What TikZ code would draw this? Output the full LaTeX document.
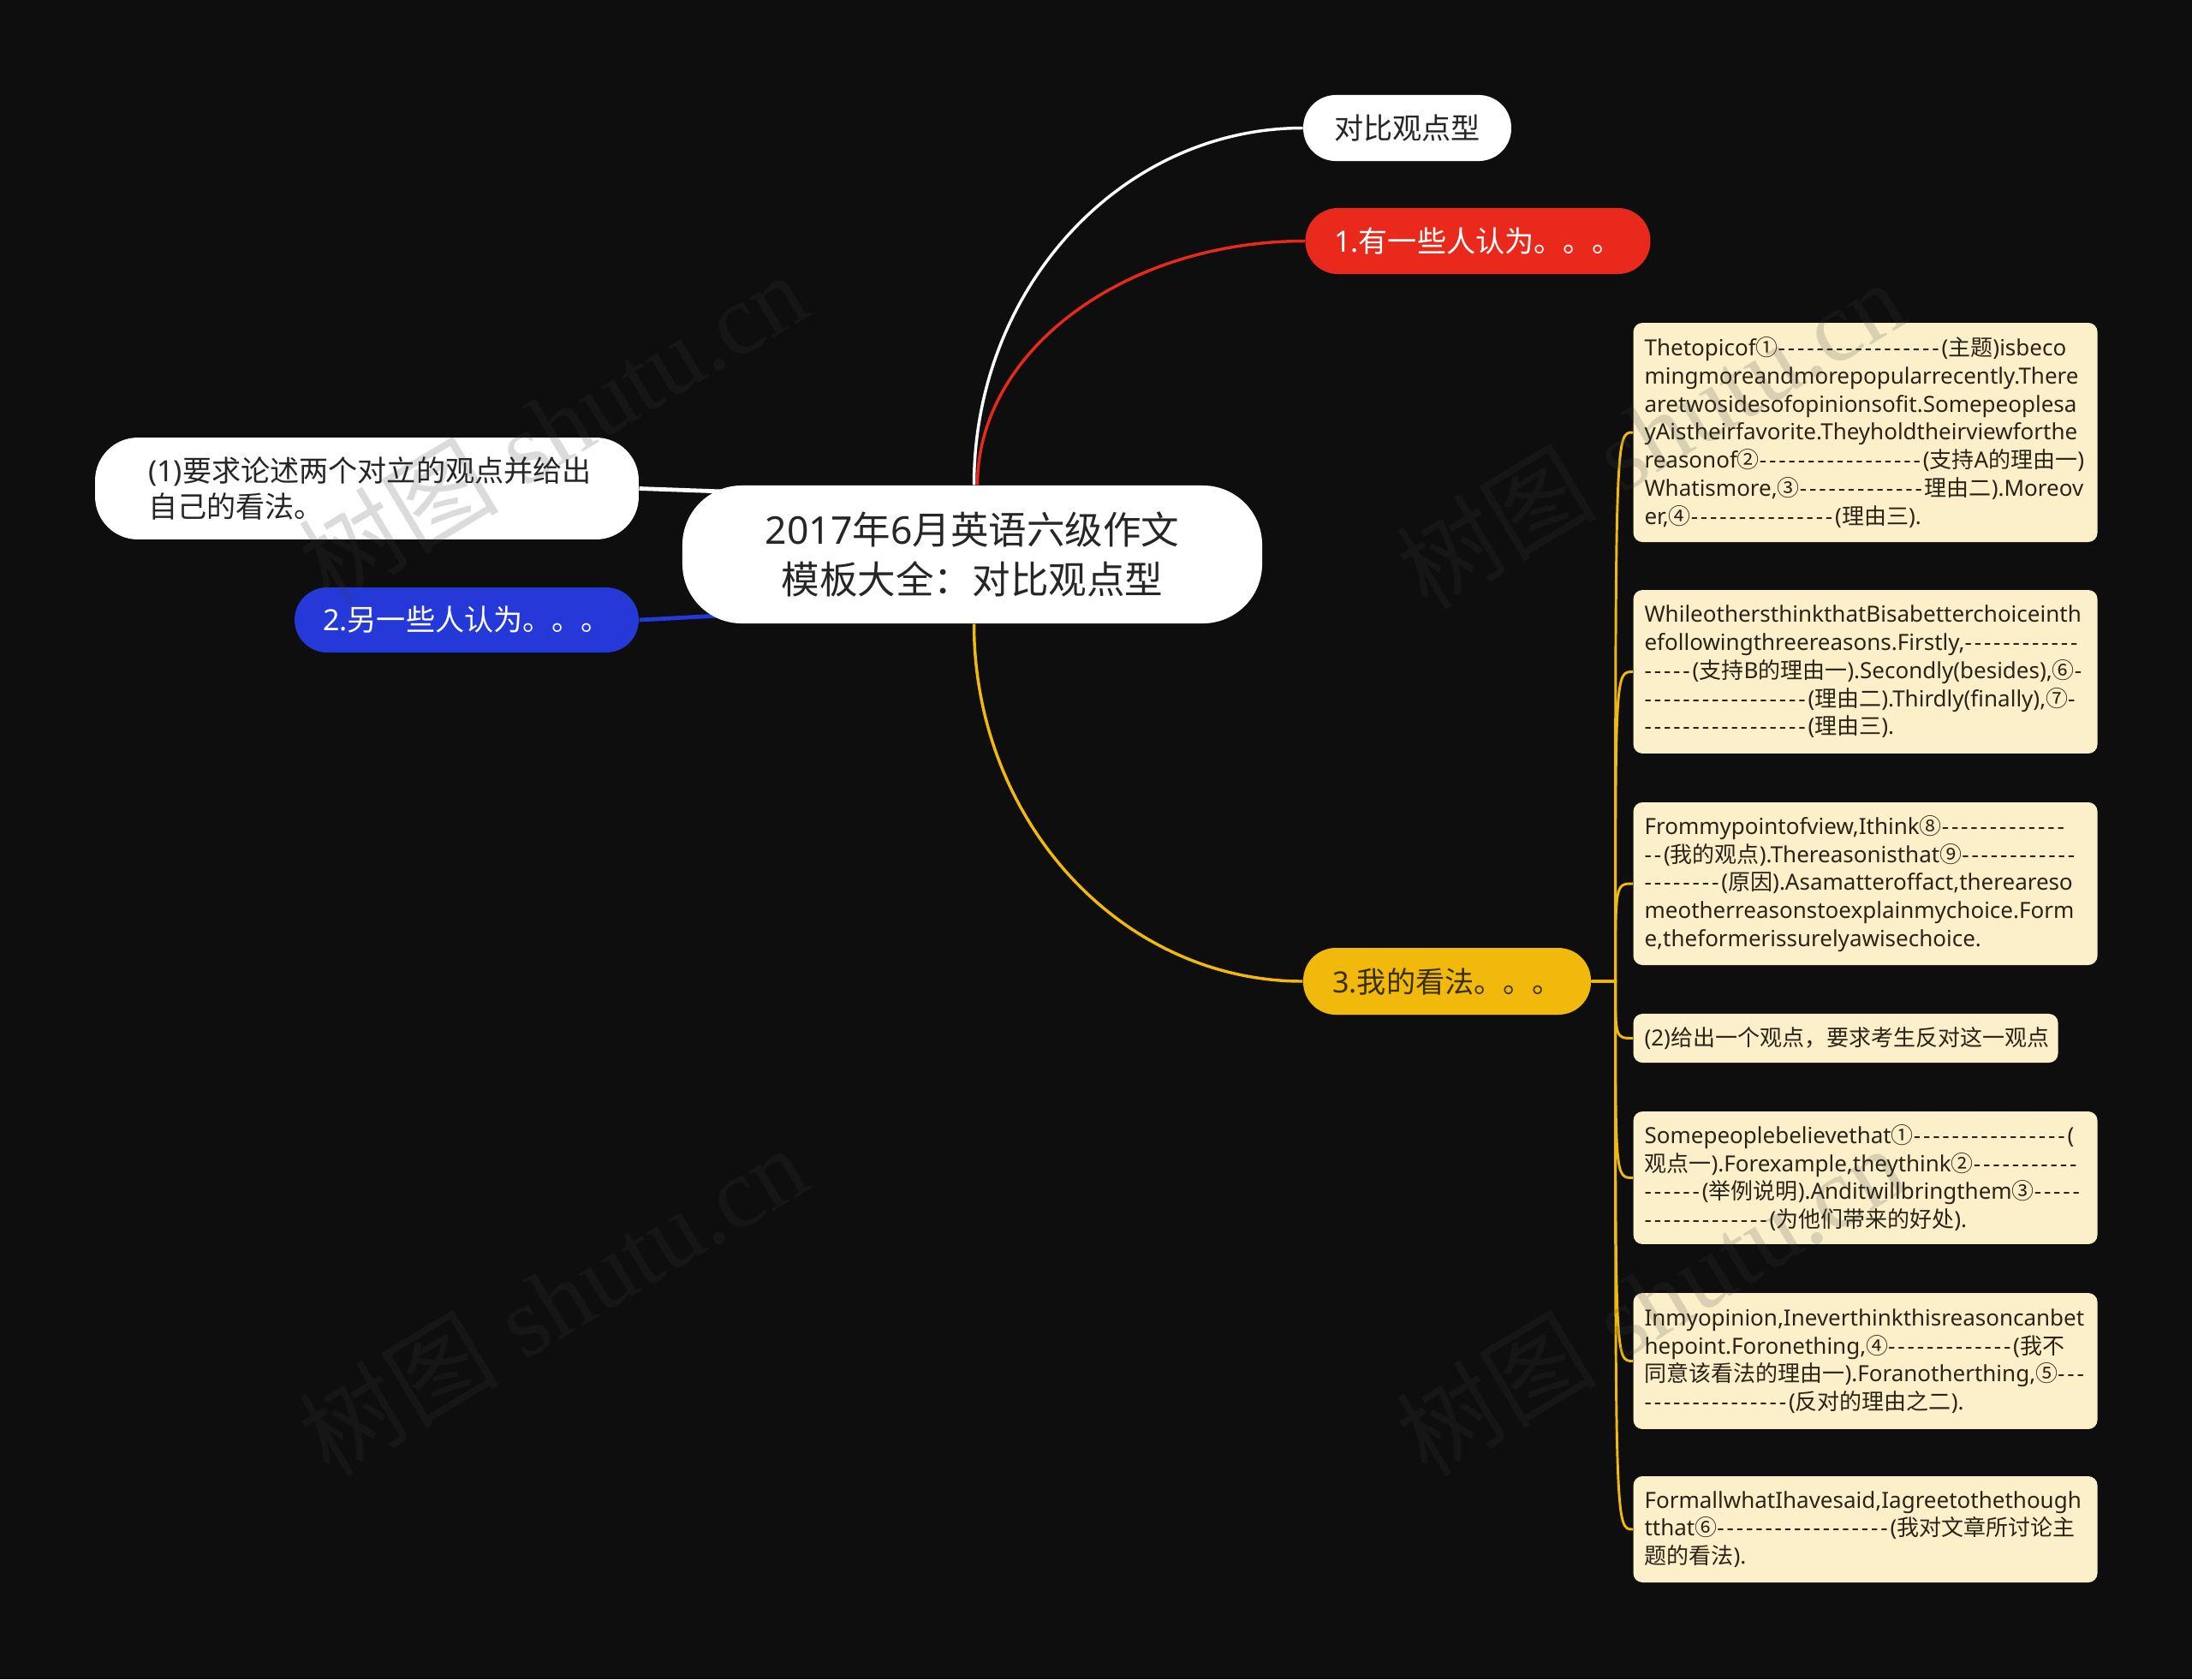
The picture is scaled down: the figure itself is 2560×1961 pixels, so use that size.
\documentclass[tikz,border=0pt]{standalone}
\usepackage{fontspec}
\setmainfont[Ligatures=TeXOff]{Noto Sans}
\newfontfamily\cjkfont{Noto Sans CJK SC}
\newfontfamily\wmfont{Liberation Serif}
\usetikzlibrary{calc}
\chardef\CJKcls=9
\chardef\HYcls=10
\newcount\mycnt
\def\setcjkrange#1#2{\mycnt=#1\relax\loop\XeTeXcharclass\mycnt=\CJKcls\relax\advance\mycnt by 1\relax\ifnum\mycnt<#2\relax\repeat}
\setcjkrange{"4E00}{"A000}
\setcjkrange{"3000}{"3040}
\setcjkrange{"FF00}{"FFF0}
\setcjkrange{"2460}{"2500}
\XeTeXcharclass`\-=\HYcls
\XeTeXinterchartoks 0 \CJKcls = {\cjkfont}
\XeTeXinterchartoks 4095 \CJKcls = {\cjkfont}
\XeTeXinterchartoks \CJKcls 0 = {\rmfamily}
\XeTeXinterchartoks \CJKcls 4095 = {\rmfamily}
\XeTeXinterchartoks \HYcls 0 = {\kern0.11em}
\XeTeXinterchartoks \HYcls \HYcls = {\kern0.11em}
\XeTeXinterchartoks \HYcls 4095 = {\kern0.11em}
\XeTeXinterchartoks \HYcls \CJKcls = {\kern0.11em\cjkfont}
\XeTeXinterchartoks \CJKcls \HYcls = {\rmfamily}
\XeTeXinterchartokenstate=1
\exhyphenpenalty=10000 \hyphenpenalty=10000 \hfuzz=80pt \hbadness=10000
\definecolor{bgc}{HTML}{0E0E0E}
\definecolor{redc}{HTML}{E8291C}
\definecolor{bluec}{HTML}{2439D8}
\definecolor{yelc}{HTML}{F0B90C}
\definecolor{creamc}{HTML}{FCF0CB}
\definecolor{boxtxt}{HTML}{2B2416}
\definecolor{darktxt}{HTML}{262626}
\definecolor{yeltxt}{HTML}{3A2E05}
\definecolor{wmc}{HTML}{3C3C3C}
\pgfdeclarelayer{back}
\pgfdeclarelayer{links}
\pgfsetlayers{back,links,main}
\tikzset{
 lvl/.style={rounded corners=14.25pt, inner sep=0pt, font=\fontsize{12.8}{15.9}\selectfont, align=left},
 rootnode/.style={fill=white, text=darktxt, rounded corners=26pt, minimum width=253.9pt, minimum height=60.4pt, inner sep=0pt, align=center, font=\fontsize{16.7}{22}\selectfont},
 cbox/.style={fill=creamc, text=boxtxt, rounded corners=4pt, anchor=west, align=left, inner xsep=4.875pt, inner ysep=0pt, text width=193.5pt, font=\fontsize{9.75}{12.26}\selectfont},
 cline/.style={line width=1.3pt},
 sideline/.style={line width=1.8pt},
 ylink/.style={draw=yelc, line width=1.1pt},
 wm/.style={rotate=31, text=wmc, text opacity=0.18, font=\fontsize{44}{44}\selectfont, inner sep=0pt},
}
\begin{document}
\begin{tikzpicture}[x=0.375pt,y=-0.375pt]
\useasboundingbox (0,0) rectangle (2560,1961);
\begin{pgfonlayer}{back}
\fill[bgc] (0,0) rectangle (2560,1961);
\end{pgfonlayer}

\node[rootnode] (root) at (1135.5,647.5) {2017年6月英语六级作文\\模板大全：对比观点型};

\node[lvl, fill=white, text=darktxt, minimum width=91.1pt, minimum height=28.9pt] (w1) at (1643.5,149.5) {对比观点型};
\node[lvl, fill=redc, text=white, minimum width=151.1pt, minimum height=28.9pt] (r1) at (1726,281.5) {1.有一些人认为。。。};
\node[lvl, fill=white, text=darktxt, text width=191.6pt, inner xsep=23.25pt, minimum height=44.6pt, rounded corners=18.75pt] (lw) at (428.5,570.5) {(1)要求论述两个对立的观点并给出\\自己的看法。};
\node[lvl, fill=bluec, text=white, minimum width=150.75pt, minimum height=28.5pt] (bl) at (545,724) {2.另一些人认为。。。};
\node[lvl, fill=yelc, text=yeltxt, minimum width=126pt, minimum height=29.25pt] (y3) at (1690,1146) {3.我的看法。。。};

\node[cbox, minimum height=96pt] (b1) at (1907,505) {Thetopicof①-----------------(主题)isbeco\\mingmoreandmorepopularrecently.There\\aretwosidesofopinionsofit.Somepeoplesa\\yAistheirfavorite.Theyholdtheirviewforthe\\reasonof②-----------------(支持A的理由一)\\Whatismore,③-------------理由二).Moreov\\er,④---------------(理由三).};
\node[cbox, minimum height=71.6pt] (b2) at (1907,784.5) {WhileothersthinkthatBisabetterchoiceinth\\efollowingthreereasons.Firstly,------------\\-----(支持B的理由一).Secondly(besides),⑥-\\-----------------(理由二).Thirdly(finally),⑦-\\-----------------(理由三).};
\node[cbox, minimum height=71.25pt] (b3) at (1907,1032) {Frommypointofview,Ithink⑧-------------\\--(我的观点).Thereasonisthat⑨------------\\--------(原因).Asamatteroffact,therearesо\\meotherreasonstoexplainmychoice.Form\\e,theformerissurelyawisechoice.};
\node[cbox, minimum height=21.4pt, text width=176.25pt] (b4) at (1907,1212.5) {(2)给出一个观点，要求考生反对这一观点};
\node[cbox, minimum height=58.1pt] (b5) at (1907,1375.5) {Somepeoplebelievethat①----------------(\\观点一).Forexample,theythink②-----------\\------(举例说明).Anditwillbringthem③-----\\-------------(为他们带来的好处).};
\node[cbox, minimum height=59.6pt] (b6) at (1907,1589.5) {Inmyopinion,Ineverthinkthisreasoncanbet\\hepoint.Foronething,④-------------(我不\\同意该看法的理由一).Foranotherthing,⑤---\\---------------(反对的理由之二).};
\node[cbox, minimum height=46.5pt] (b7) at (1907,1786) {FormallwhatIhavesaid,Iagreetothethough\\tthat⑥------------------(我对文章所讨论主\\题的看法).};

\begin{pgfonlayer}{links}
\draw[cline, white] ($(root.north)+(2,0)$) .. controls +(0,-230) and +(-212,0) .. (w1.west);
\draw[cline, redc] ($(root.north)+(6,0)$) .. controls +(0,-157) and +(-210,0) .. (r1.west);
\draw[cline, yelc] ($(root.south)+(2,0)$) .. controls +(0,230) and +(-212,0) .. (y3.west);
\draw[sideline, white] (lw.east) -- ($(root.north west)+(60,8)$);
\draw[sideline, bluec] (bl.east) -- ($(root.south west)+(52,-10)$);
\coordinate (tk) at ($(y3.east)+(28,0)$);
\foreach \b in {b1,b2,b3,b4,b5,b6,b7} {
  \draw[ylink] (y3.east) -- (tk) .. controls (tk |- \b.west) .. (\b.west);
}
\end{pgfonlayer}

\node[wm] (wm1) at (645,498) {树图 {\wmfont shutu.cn}};
\node[wm] (wm2) at (1927,506) {树图 {\wmfont shutu.cn}};
\node[wm] (wm3) at (645,1518) {树图 {\wmfont shutu.cn}};
\node[wm] (wm4) at (1927,1518) {树图 {\wmfont shutu.cn}};
\end{tikzpicture}
\end{document}
